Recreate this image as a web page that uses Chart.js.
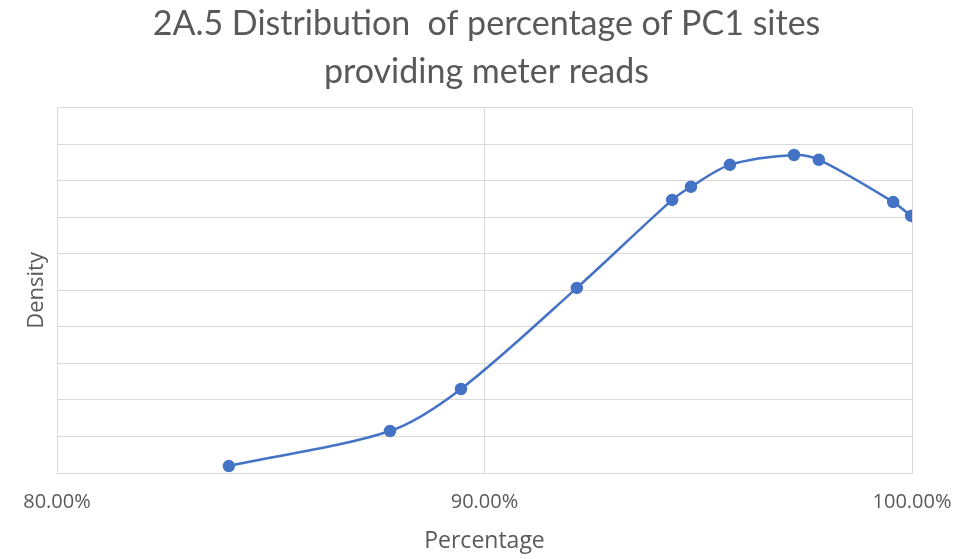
<!DOCTYPE html>
<html>
<head>
<meta charset="utf-8">
<script src="https://cdn.jsdelivr.net/npm/chart.js@4"></script>
<style>
  html, body { margin: 0; padding: 0; background: #fff; }
  #wrap { width: 973px; height: 559px; }
</style>
</head>
<body>
<div id="wrap"><canvas id="densityChart" width="973" height="559"></canvas></div>
<script>
// Points (x in %, y in gridline units)
const percentages = [84.02, 87.79, 89.45, 92.16, 94.39, 94.83, 95.74, 97.24, 97.82, 99.56, 99.98];
const densities = [0.19, 1.15, 2.30, 5.07, 7.48, 7.84, 8.44, 8.71, 8.58, 7.42, 7.04];
const xTicks = [80, 90, 100];
const titleLines = ["2A.5 Distribution  of percentage of PC1 sites", "providing meter reads"];

const textColor = "#595959";
const gridColor = "#d9d9d9";
const lineColor = "#4472c4";

Chart.defaults.font.family = "'Open Sans', sans-serif";
Chart.defaults.color = textColor;

new Chart(document.getElementById("densityChart"), {
    type: "scatter",
    data: {
        datasets: [{
            label: "Density",
            data: percentages.map((p, i) => ({ x: p, y: densities[i] })),
            showLine: true,
            tension: 0.3,
            borderColor: lineColor,
            backgroundColor: lineColor,
            borderWidth: 2.5,
            pointRadius: 5,
            pointHoverRadius: 5
        }]
    },
    options: {
        responsive: false,
        animation: false,
        layout: { padding: 0 },
        plugins: {
            legend: { display: false },
            tooltip: { enabled: false },
            title: {
                display: true,
                text: titleLines,
                color: textColor,
                font: { family: "Lato, sans-serif", size: 34, weight: "normal", lineHeight: 1.41 },
                padding: { top: 0, bottom: 12 }
            }
        },
        scales: {
            x: {
                type: "linear",
                min: 80,
                max: 100,
                afterBuildTicks: scale => { scale.ticks = xTicks.map(v => ({ value: v })); },
                afterFit: scale => { scale.height = 86; },
                grid: { color: gridColor, drawTicks: false },
                border: { color: gridColor },
                ticks: {
                    padding: 17,
                    font: { size: 20 },
                    callback: v => v.toFixed(2) + "%"
                },
                title: {
                    display: true,
                    text: "Percentage",
                    font: { size: 23 },
                    padding: { top: 0, bottom: 4 }
                }
            },
            y: {
                min: 0,
                max: 10,
                afterFit: scale => { scale.width = 57; },
                grid: { color: gridColor, drawTicks: false },
                border: { color: gridColor },
                ticks: { display: false, stepSize: 1 },
                title: {
                    display: true,
                    text: "Density",
                    font: { size: 22 },
                    padding: { top: 24, bottom: 0 }
                }
            },
            // empty right-hand strip so the title stays centred on the canvas
            spacer: {
                type: "linear",
                position: "right",
                afterFit: scale => { scale.width = 61; },
                grid: { display: false },
                border: { display: false },
                ticks: { display: false }
            }
        }
    }
});
</script>
</body>
</html>
